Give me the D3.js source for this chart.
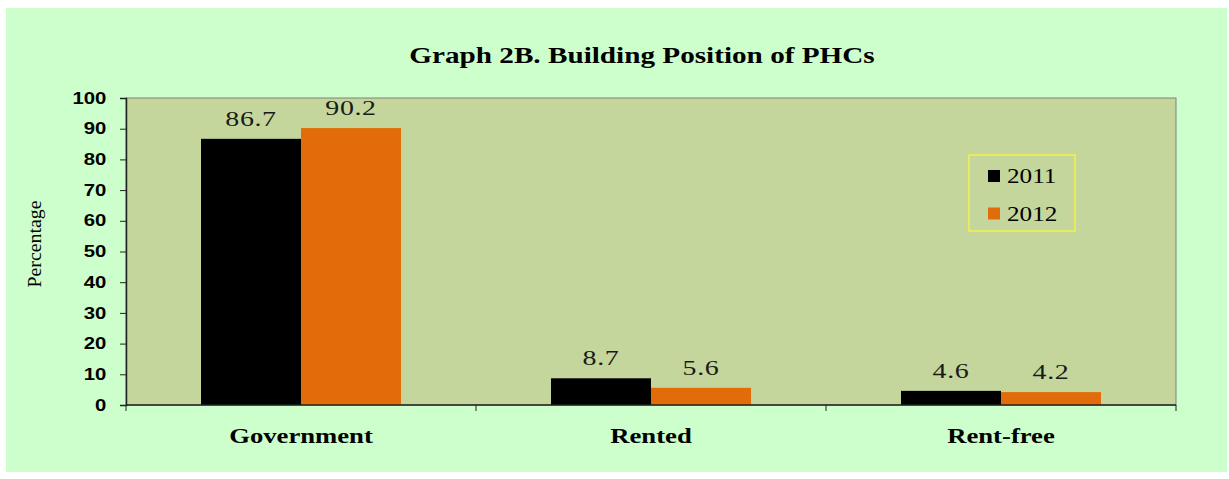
<!DOCTYPE html>
<html>
<head>
<meta charset="utf-8">
<script src="https://cdn.jsdelivr.net/npm/d3@7"></script>
<style>
  body { margin: 0; background: #ffffff; }
  svg { display: block; font-family: "Liberation Serif", "Times New Roman", serif; }
</style>
</head>
<body>
<div id="chart"></div>
<script>
// --- data ---
const categories = ["Government", "Rented", "Rent-free"];
const years = ["2011", "2012"];
const values2011 = [86.7, 8.7, 4.6];
const values2012 = [90.2, 5.6, 4.2];
const yTicks = [0, 10, 20, 30, 40, 50, 60, 70, 80, 90, 100];
const colors = ["#000000", "#e36c0a"];

const width = 1229, height = 479;
const plot = { left: 126, top: 98, right: 1176, bottom: 405 };
const sx = 1.27; // the source picture is stretched sideways

const svg = d3.select("#chart").append("svg")
  .attr("width", width)
  .attr("height", height);

// outer chart background
svg.append("rect")
  .attr("x", 6).attr("y", 8)
  .attr("width", 1221).attr("height", 464)
  .attr("fill", "#ccffcc");

// plot area
svg.append("rect")
  .attr("x", plot.left).attr("y", plot.top)
  .attr("width", plot.right - plot.left).attr("height", plot.bottom - plot.top)
  .attr("fill", "#c4d69b")
  .attr("stroke", "#808080")
  .attr("stroke-width", 1);

const x0 = d3.scaleBand()
  .domain(categories)
  .range([plot.left, plot.right])
  .paddingInner(0.4286)
  .paddingOuter(0.2143);

const x1 = d3.scaleBand()
  .domain(years)
  .range([0, x0.bandwidth()]);

const y = d3.scaleLinear()
  .domain([0, 100])
  .range([plot.bottom, plot.top]);

const rows = categories.map((c, i) => ({
  cat: c,
  vals: [
    { year: years[0], v: values2011[i] },
    { year: years[1], v: values2012[i] }
  ]
}));

// bars
const groups = svg.selectAll(".grp")
  .data(rows)
  .enter().append("g")
  .attr("transform", d => `translate(${x0(d.cat)},0)`);

groups.selectAll("rect")
  .data(d => d.vals)
  .enter().append("rect")
  .attr("x", d => x1(d.year))
  .attr("y", d => y(d.v))
  .attr("width", x1.bandwidth())
  .attr("height", d => y(0) - y(d.v))
  .attr("fill", (d, i) => colors[i]);

groups.selectAll("text")
  .data(d => d.vals)
  .enter().append("text")
  .attr("transform", d => `translate(${x1(d.year) + x1.bandwidth() / 2},${y(d.v) - 13}) scale(${sx},1)`)
  .attr("text-anchor", "middle")
  .style("font-size", "22px")
  .style("letter-spacing", "0.5px")
  .attr("fill", "#1a1a1a")
  .text(d => d.v.toFixed(1));

// y axis
const yAxis = svg.append("g")
  .attr("transform", `translate(${plot.left},0)`)
  .call(d3.axisLeft(y).tickValues(yTicks).tickSize(6).tickPadding(9.5));
yAxis.select(".domain").attr("stroke", "#222").attr("stroke-width", 1.5);
yAxis.selectAll(".tick line").attr("stroke", "#222");
yAxis.selectAll(".tick text")
  .attr("transform", `scale(${sx},1)`)
  .style("font-size", "16px")
  .style("font-weight", "bold")
  .attr("fill", "#000");

// x axis with ticks at category boundaries
const xAxis = svg.append("g")
  .attr("transform", `translate(0,${plot.bottom})`);
xAxis.append("line")
  .attr("x1", plot.left).attr("x2", plot.right)
  .attr("stroke", "#222").attr("stroke-width", 1.5);
const step = x0.step();
const bounds = d3.range(categories.length + 1).map(i => plot.left + i * step);
xAxis.selectAll(".xtick")
  .data(bounds)
  .enter().append("line")
  .attr("x1", d => d).attr("x2", d => d)
  .attr("y1", 0).attr("y2", 6)
  .attr("stroke", "#222");
xAxis.selectAll(".xlab")
  .data(categories)
  .enter().append("text")
  .attr("transform", d => `translate(${x0(d) + x0.bandwidth() / 2},38) scale(${sx},1)`)
  .attr("text-anchor", "middle")
  .style("font-size", "21px")
  .style("font-weight", "bold")
  .attr("fill", "#000")
  .text(d => d);

// y axis title
svg.append("text")
  .attr("transform", "translate(41,244) rotate(-90)")
  .attr("text-anchor", "middle")
  .attr("textLength", 87)
  .attr("lengthAdjust", "spacingAndGlyphs")
  .style("font-size", "18px")
  .attr("fill", "#000")
  .text("Percentage");

// title
svg.append("text")
  .attr("transform", `translate(642,63) scale(${sx},1)`)
  .attr("text-anchor", "middle")
  .style("font-size", "23px")
  .style("font-weight", "bold")
  .attr("fill", "#000")
  .text("Graph 2B. Building Position of PHCs");

// legend
const legend = svg.append("g").attr("transform", "translate(969,155)");
legend.append("rect")
  .attr("width", 106).attr("height", 76)
  .attr("fill", "none")
  .attr("stroke", "#f2f24a")
  .attr("stroke-width", 1.5);
const item = legend.selectAll(".item")
  .data(years)
  .enter().append("g")
  .attr("transform", (d, i) => `translate(19,${21 + i * 37.5})`);
item.append("rect")
  .attr("x", 0).attr("y", -6)
  .attr("width", 12).attr("height", 12)
  .attr("fill", (d, i) => colors[i]);
item.append("text")
  .attr("transform", "translate(19,7) scale(1.2,1)")
  .style("font-size", "21px")
  .attr("fill", "#000")
  .text(d => d);
</script>
</body>
</html>
